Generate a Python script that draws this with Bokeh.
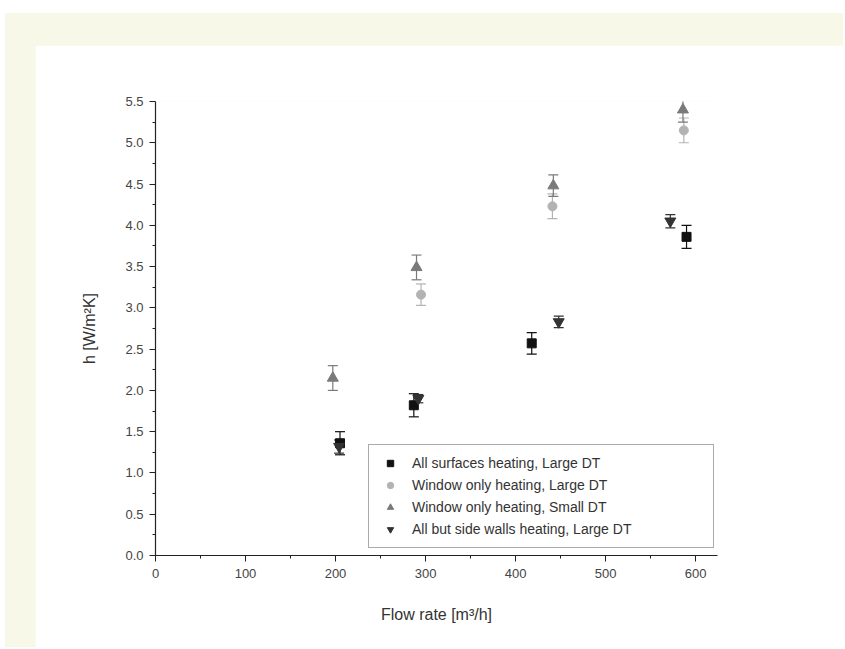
from bokeh.plotting import figure
from bokeh.models import (ColumnDataSource, Whisker, TeeHead, Legend, LegendItem,
                          Range1d, FixedTicker, CustomJSTickFormatter)
from bokeh.layouts import column
from bokeh.embed import file_html
from bokeh.resources import INLINE

# ---- data ----
labels = ["All surfaces heating, Large DT",
          "Window only heating, Large DT",
          "Window only heating, Small DT",
          "All but side walls heating, Large DT"]

x_all = [205, 287, 418, 590]
y_all = [1.36, 1.82, 2.57, 3.86]
e_all = [0.14, 0.14, 0.13, 0.14]

x_win_large = [295, 441, 587]
y_win_large = [3.16, 4.23, 5.15]
e_win_large = [0.13, 0.15, 0.15]

x_win_small = [197, 290, 442, 586]
y_win_small = [2.15, 3.49, 4.48, 5.40]
e_win_small = [0.15, 0.15, 0.13, 0.15]

x_side = [204, 292, 448, 572]
y_side = [1.32, 1.90, 2.83, 4.05]
e_side = [0.08, 0.05, 0.07, 0.08]

x_ticks = [0, 100, 200, 300, 400, 500, 600]
y_ticks = [0.0, 0.5, 1.0, 1.5, 2.0, 2.5, 3.0, 3.5, 4.0, 4.5, 5.0, 5.5]

FONT = "Liberation Sans"

p = figure(width=808, height=602, output_backend="svg", toolbar_location=None,
           x_range=Range1d(0, 624.4), y_range=Range1d(0, 5.5),
           min_border_left=120, min_border_right=126,
           min_border_top=56, min_border_bottom=92)
p.outline_line_color = None
p.grid.visible = False
p.background_fill_color = "white"
p.border_fill_color = "white"

series = [
    (x_all, y_all, e_all, "square", "#111111", 9),
    (x_win_large, y_win_large, e_win_large, "circle", "#b3b3b3", 9),
    (x_win_small, y_win_small, e_win_small, "triangle", "#7a7a7a", 11),
    (x_side, y_side, e_side, "inverted_triangle", "#333333", 11),
]

items = []
for (xs, ys, es, marker, color, size), lab in zip(series, labels):
    src = ColumnDataSource(dict(x=xs, y=ys,
                                lo=[a - b for a, b in zip(ys, es)],
                                hi=[a + b for a, b in zip(ys, es)]))
    w = Whisker(source=src, base="x", lower="lo", upper="hi",
                line_color=color, line_width=1.2,
                upper_head=TeeHead(size=10, line_color=color, line_width=1.2),
                lower_head=TeeHead(size=10, line_color=color, line_width=1.2))
    p.add_layout(w)
    r = p.scatter("x", "y", source=src, marker=marker, size=size,
                  fill_color=color, line_color=color)
    items.append(LegendItem(label=lab, renderers=[r]))

legend = Legend(items=items, location=(213, 7), border_line_color="#555555",
                border_line_width=1, background_fill_color="white",
                label_text_font=FONT, label_text_font_size="14px",
                label_text_color="#333333", label_height=18, label_standoff=10,
                glyph_width=24, glyph_height=16, spacing=4, padding=9, margin=0)
legend.label_width = 292
p.add_layout(legend, "center")

for ax in (p.xaxis[0], p.yaxis[0]):
    ax.axis_line_color = "#222222"
    ax.axis_line_width = 1.2
    ax.major_tick_line_color = "#222222"
    ax.minor_tick_line_color = "#222222"
    ax.major_tick_out = 6
    ax.major_tick_in = 0
    ax.minor_tick_out = 3
    ax.minor_tick_in = 0
    ax.major_label_text_font = FONT
    ax.major_label_text_font_size = "13px"
    ax.major_label_text_color = "#444444"
    ax.axis_label_text_font = FONT
    ax.axis_label_text_font_size = "16px"
    ax.axis_label_text_font_style = "normal"
    ax.axis_label_text_color = "#333333"

p.xaxis.ticker = FixedTicker(ticks=x_ticks, minor_ticks=[50, 150, 250, 350, 450, 550])
p.yaxis.ticker = FixedTicker(ticks=y_ticks,
                             minor_ticks=[0.25 + 0.5 * i for i in range(11)])
p.yaxis.formatter = CustomJSTickFormatter(code="return tick.toFixed(1);")
p.xaxis.major_label_standoff = 7
p.yaxis.major_label_standoff = 6
p.xaxis.axis_label = "Flow rate [m³/h]"
p.yaxis.axis_label = "h [W/m²K]"
p.xaxis.axis_label_standoff = 25
p.yaxis.axis_label_standoff = 24

layout = column(p, styles={"background-color": "#f7f8e7",
                           "padding-left": "30px", "padding-top": "32px"},
                margin=(13, 0, 0, 5))

open("out.html", "w").write(file_html(layout, INLINE))
